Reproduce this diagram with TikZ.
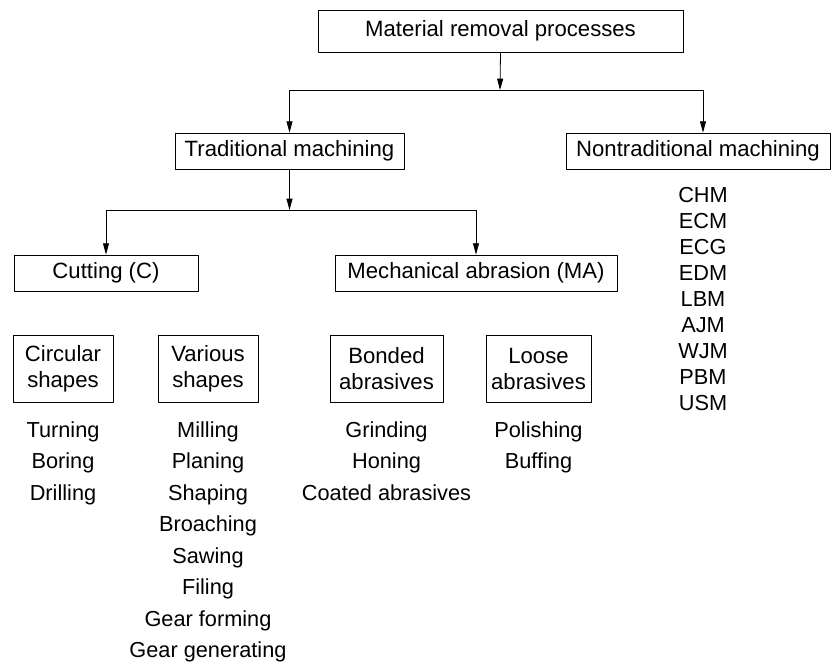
\documentclass[tikz,border=0pt]{standalone}
\usepackage{fontspec}
\setmainfont{Liberation Sans}
\usetikzlibrary{arrows.meta}

\begin{document}
\begin{tikzpicture}[line cap=round,line join=round,>={Triangle[length=8.5pt,width=4.5pt]},x=0.75pt,y=-0.75pt,
	procbox/.style={draw,line width=0.6pt,minimum height=27pt,inner sep=0pt,font=\fontsize{16.6}{19.5}\selectfont},
	subbox/.style={procbox,minimum height=50.25pt,align=center},
	itemlist/.style={align=center,font=\fontsize{16.3}{23.6}\selectfont},
	codelist/.style={align=center,font=\fontsize{16.3}{19.5}\selectfont}]
			\useasboundingbox (0,0) rectangle (831,666);
			% boxes
			\node [procbox,minimum height=31.5pt,minimum width=273.75pt] (mrp) at (500.5,31) {Material removal processes};
			\node [procbox,minimum width=171.75pt] (trad) at (289.5,151) {Traditional machining};
			\node [procbox,minimum width=198pt] (nontrad) at (698,151) {Nontraditional machining};
			\node [procbox,minimum width=138pt] (cut) at (106,273) {Cutting (C)};
			\node [procbox,minimum width=211.5pt] (abr) at (476,273) {Mechanical abrasion (MA)};
			\node [subbox,minimum width=75pt] (circ) at (63,368.5) {Circular\\shapes};
			\node [subbox,minimum width=75pt] (vari) at (208,368.5) {Various\\shapes};
			\node [subbox,minimum width=84.75pt] (bond) at (386.5,368.5) {Bonded\\abrasives};
			\node [subbox,minimum width=78.75pt] (loose) at (538.5,368.5) {Loose\\abrasives};
			% connectors
			\coordinate (split1) at (500,90);
			\coordinate (split2) at (289.5,210);
			\draw [->,line width=0.6pt] (mrp.south) -- (split1);
			\draw [->,line width=0.6pt] (split1) -| (trad.north);
			\draw [->,line width=0.6pt] (split1) -| ([xshift=3.75pt]nontrad.north);
			\draw [->,line width=0.6pt] (trad.south) -- (split2);
			\draw [->,line width=0.6pt] (split2) -| (cut.north);
			\draw [->,line width=0.6pt] (split2) -| (abr.north);
			% process lists
			\node [itemlist,anchor=north] (circlist) at (63,417) {Turning\\Boring\\Drilling};
			\node [itemlist,anchor=north] (varilist) at (208,417) {Milling\\Planing\\Shaping\\Broaching\\Sawing\\Filing\\Gear forming\\Gear generating};
			\node [itemlist,anchor=north] (bondlist) at (386.5,417) {Grinding\\Honing\\Coated abrasives};
			\node [itemlist,anchor=north] (looselist) at (538.5,417) {Polishing\\Buffing};
			\node [codelist,anchor=north] (ntlist) at (703,183) {CHM\\ECM\\ECG\\EDM\\LBM\\AJM\\WJM\\PBM\\USM};
		\end{tikzpicture}
\end{document}
